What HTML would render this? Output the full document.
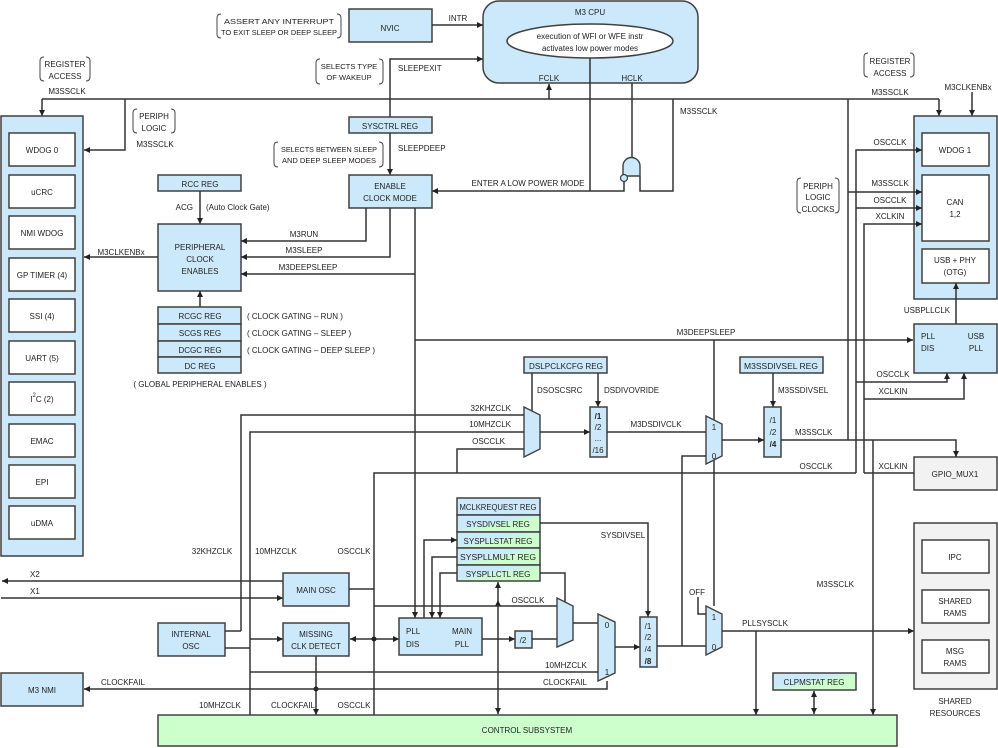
<!DOCTYPE html>
<html><head><meta charset="utf-8"><style>
html,body{margin:0;padding:0;background:#fff}
svg{display:block}
text{font-family:"Liberation Sans",sans-serif;font-size:8px;fill:#222}
.c{font-size:7.6px}
.b{fill:#cce9fb;stroke:#404040;stroke-width:1.5}
.w{fill:#fff;stroke:#404040;stroke-width:1.5}
.g{fill:#f2f2f2;stroke:#404040;stroke-width:1.5}
.gr{fill:#ccffcc;stroke:#404040;stroke-width:1.5}
.bg{fill:url(#bgr);stroke:#404040;stroke-width:1.5}
.l{fill:none;stroke:#333;stroke-width:1.5}
.br{fill:none;stroke:#444;stroke-width:1}
</style></head><body>
<svg width="998" height="748" viewBox="0 0 998 748" xmlns="http://www.w3.org/2000/svg">
<defs>
<marker id="a" markerWidth="7" markerHeight="7" refX="6" refY="3.5" orient="auto" markerUnits="userSpaceOnUse"><path d="M0,0.5 L6,3.5 L0,6.5z" fill="#222"/></marker>
<marker id="s" markerWidth="7" markerHeight="7" refX="1" refY="3.5" orient="auto" markerUnits="userSpaceOnUse"><path d="M7,0.5 L1,3.5 L7,6.5z" fill="#222"/></marker>
<linearGradient id="bgr" x1="0" y1="0" x2="1" y2="1"><stop offset="0.4" stop-color="#cce9fb"/><stop offset="0.6" stop-color="#ccffcc"/></linearGradient>
</defs>

<!-- M3 CPU -->
<rect x="483" y="1" width="215" height="82" rx="16" class="b"/>
<text x="590" y="15" text-anchor="middle">M3 CPU</text>
<ellipse cx="590" cy="41" rx="83" ry="17" class="w"/>
<text x="590" y="39" text-anchor="middle">execution of WFI or WFE instr</text>
<text x="590" y="51" text-anchor="middle">activates low power modes</text>
<text x="549" y="81" text-anchor="middle">FCLK</text>
<text x="632" y="81" text-anchor="middle">HCLK</text>

<!-- NVIC -->
<rect x="349" y="9" width="83" height="33" class="b"/>
<text x="390" y="31" text-anchor="middle">NVIC</text>
<path class="l" d="M432,25 H483" marker-end="url(#a)"/>
<text x="458" y="21" text-anchor="middle">INTR</text>
<path class="br" d="M221,14 q-4,0 -4,4 v16 q0,4 4,4 M337,14 q4,0 4,4 v16 q0,4 -4,4"/>
<text x="279" y="24" text-anchor="middle" class="c" textLength="110" lengthAdjust="spacingAndGlyphs">ASSERT ANY INTERRUPT</text>
<text x="279" y="35" text-anchor="middle" class="c" textLength="116" lengthAdjust="spacingAndGlyphs">TO EXIT SLEEP OR DEEP SLEEP</text>

<!-- SLEEPEXIT -->
<path class="l" d="M390,117 V59 H483" marker-end="url(#a)"/>
<text x="398" y="71">SLEEPEXIT</text>
<path class="br" d="M320,59 q-4,0 -4,4 v17 q0,4 4,4 M379,59 q4,0 4,4 v17 q0,4 -4,4"/>
<text x="349" y="69" text-anchor="middle" class="c">SELECTS TYPE</text>
<text x="349" y="80" text-anchor="middle" class="c">OF WAKEUP</text>

<!-- M3SSCLK top bus -->
<path class="l" d="M42,99 H939"/>
<path class="l" d="M42,99 V116" marker-end="url(#a)"/>
<path class="l" d="M939,99 V116" marker-end="url(#a)"/>
<path class="l" d="M972,92 V116" marker-end="url(#a)"/>
<path class="l" d="M125,99 V150 H84" marker-end="url(#a)"/>
<path class="l" d="M549,99 V84" marker-end="url(#a)"/>
<path class="br" d="M44,57 q-4,0 -4,4 v16 q0,4 4,4 M86,57 q4,0 4,4 v16 q0,4 -4,4"/>
<text x="65" y="67" text-anchor="middle">REGISTER</text>
<text x="65" y="79" text-anchor="middle">ACCESS</text>
<text x="67" y="94" text-anchor="middle">M3SSCLK</text>
<path class="br" d="M868,53 q-4,0 -4,4 v16 q0,4 4,4 M910,53 q4,0 4,4 v16 q0,4 -4,4"/>
<text x="890" y="64" text-anchor="middle">REGISTER</text>
<text x="890" y="76" text-anchor="middle">ACCESS</text>
<text x="890" y="95" text-anchor="middle">M3SSCLK</text>
<text x="968" y="90" text-anchor="middle">M3CLKENBx</text>
<path class="br" d="M137,109 q-4,0 -4,4 v16 q0,4 4,4 M171,109 q4,0 4,4 v16 q0,4 -4,4"/>
<text x="154" y="119" text-anchor="middle">PERIPH</text>
<text x="154" y="131" text-anchor="middle">LOGIC</text>
<text x="155" y="147" text-anchor="middle">M3SSCLK</text>

<!-- CPU internals / gate -->
<path class="l" d="M590,58 V191"/>
<path class="l" d="M632,83 V158"/>
<path class="l" d="M673,99 V191 H640 V176"/>
<path class="b" d="M623,176 V166 a8.5,8.5 0 0 1 17,0 V176 z" style="stroke:#404040;stroke-width:1.4"/>
<circle cx="624" cy="178" r="3.5" class="b" style="stroke-width:1.2"/>
<path class="l" d="M624,181.5 V191 H432" marker-end="url(#a)"/>
<text x="528" y="186" text-anchor="middle">ENTER A LOW POWER MODE</text>
<text x="680" y="114">M3SSCLK</text>

<!-- SYSCTRL / ENABLE -->
<rect x="349" y="117" width="83" height="16" class="b"/>
<text x="390" y="129" text-anchor="middle">SYSCTRL  REG</text>
<path class="l" d="M390,133 V175" marker-end="url(#a)"/>
<text x="398" y="151">SLEEPDEEP</text>
<path class="br" d="M278,142 q-4,0 -4,4 v17 q0,4 4,4 M379,142 q4,0 4,4 v17 q0,4 -4,4"/>
<text x="329" y="152" text-anchor="middle" class="c" textLength="96" lengthAdjust="spacingAndGlyphs">SELECTS BETWEEN SLEEP</text>
<text x="329" y="163" text-anchor="middle" class="c" textLength="94" lengthAdjust="spacingAndGlyphs">AND DEEP SLEEP MODES</text>
<rect x="349" y="175" width="83" height="33" class="b"/>
<text x="390" y="189" text-anchor="middle">ENABLE</text>
<text x="390" y="201" text-anchor="middle">CLOCK MODE</text>

<!-- RCC / PERIPH CLOCK ENABLES -->
<rect x="158" y="175" width="83" height="16" class="b"/>
<text x="200" y="187" text-anchor="middle">RCC  REG</text>
<path class="l" d="M200,191 V224" marker-end="url(#a)"/>
<text x="193" y="210" text-anchor="end">ACG</text>
<text x="206" y="210">(Auto Clock Gate)</text>
<rect x="158" y="224" width="83" height="67" class="b"/>
<text x="200" y="250" text-anchor="middle">PERIPHERAL</text>
<text x="200" y="262" text-anchor="middle">CLOCK</text>
<text x="200" y="274" text-anchor="middle">ENABLES</text>
<path class="l" d="M366,208 V241 H241" marker-end="url(#a)"/>
<text x="304" y="237" text-anchor="middle">M3RUN</text>
<path class="l" d="M390,208 V257 H241" marker-end="url(#a)"/>
<text x="304" y="253" text-anchor="middle">M3SLEEP</text>
<path class="l" d="M415,208 V618" marker-end="url(#a)"/>
<path class="l" d="M415,274 H241" marker-end="url(#a)"/>
<text x="308" y="270" text-anchor="middle">M3DEEPSLEEP</text>
<path class="l" d="M158,257 H84" marker-end="url(#a)"/>
<text x="121" y="255" text-anchor="middle">M3CLKENBx</text>
<path class="l" d="M200,307 V291" marker-end="url(#a)"/>
<rect x="158" y="307" width="83" height="17" class="b"/>
<rect x="158" y="324" width="83" height="17" class="b"/>
<rect x="158" y="341" width="83" height="16" class="b"/>
<rect x="158" y="357" width="83" height="16" class="b"/>
<text x="200" y="319" text-anchor="middle">RCGC  REG</text>
<text x="200" y="336" text-anchor="middle">SCGS  REG</text>
<text x="200" y="353" text-anchor="middle">DCGC  REG</text>
<text x="200" y="369" text-anchor="middle">DC  REG</text>
<text x="247" y="319">( CLOCK GATING – RUN )</text>
<text x="247" y="336">( CLOCK GATING – SLEEP )</text>
<text x="247" y="353">( CLOCK GATING – DEEP SLEEP )</text>
<text x="200" y="387" text-anchor="middle">( GLOBAL PERIPHERAL ENABLES )</text>

<!-- Left panel -->
<rect x="1" y="116" width="82" height="440" class="b"/>
<rect x="9" y="133" width="66" height="33" class="w"/><text x="42" y="153" text-anchor="middle">WDOG 0</text>
<rect x="9" y="175" width="66" height="33" class="w"/><text x="42" y="195" text-anchor="middle">uCRC</text>
<rect x="9" y="216" width="66" height="33" class="w"/><text x="42" y="236" text-anchor="middle">NMI WDOG</text>
<rect x="9" y="258" width="66" height="33" class="w"/><text x="42" y="278" text-anchor="middle">GP TIMER  (4)</text>
<rect x="9" y="299" width="66" height="33" class="w"/><text x="42" y="319" text-anchor="middle">SSI  (4)</text>
<rect x="9" y="341" width="66" height="33" class="w"/><text x="42" y="361" text-anchor="middle">UART  (5)</text>
<rect x="9" y="382" width="66" height="33" class="w"/><text x="42" y="402" text-anchor="middle">I<tspan dy="-5" font-size="6">2</tspan><tspan dy="5">C  (2)</tspan></text>
<rect x="9" y="424" width="66" height="33" class="w"/><text x="42" y="444" text-anchor="middle">EMAC</text>
<rect x="9" y="465" width="66" height="33" class="w"/><text x="42" y="485" text-anchor="middle">EPI</text>
<rect x="9" y="506" width="66" height="33" class="w"/><text x="42" y="526" text-anchor="middle">uDMA</text>

<!-- Right panel -->
<rect x="914" y="116" width="83" height="183" class="b"/>
<rect x="922" y="133" width="67" height="33" class="w"/><text x="955" y="153" text-anchor="middle">WDOG 1</text>
<rect x="922" y="175" width="67" height="66" class="w"/><text x="955" y="205" text-anchor="middle">CAN</text><text x="955" y="217" text-anchor="middle">1,2</text>
<rect x="922" y="249" width="67" height="34" class="w"/><text x="955" y="263" text-anchor="middle">USB + PHY</text><text x="955" y="275" text-anchor="middle">(OTG)</text>
<path class="l" d="M856,473 V150 H922" marker-end="url(#a)"/>
<text x="890" y="145" text-anchor="middle">OSCCLK</text>
<path class="l" d="M848,99 V440"/>
<path class="l" d="M848,192 H922" marker-end="url(#a)"/>
<text x="890" y="186" text-anchor="middle">M3SSCLK</text>
<path class="l" d="M856,208 H922" marker-end="url(#a)"/>
<text x="890" y="203" text-anchor="middle">OSCCLK</text>
<path class="l" d="M864,473 V224 H922" marker-end="url(#a)"/>
<text x="890" y="219" text-anchor="middle">XCLKIN</text>
<path class="br" d="M801,178 q-4,0 -4,4 v27 q0,4 4,4 M835,178 q4,0 4,4 v27 q0,4 -4,4"/>
<text x="818" y="189" text-anchor="middle">PERIPH</text>
<text x="818" y="200" text-anchor="middle">LOGIC</text>
<text x="818" y="212" text-anchor="middle">CLOCKS</text>

<!-- USB PLL -->
<rect x="914" y="324" width="83" height="49" class="b"/>
<text x="921" y="339">PLL</text><text x="921" y="351">DIS</text>
<text x="976" y="339" text-anchor="middle">USB</text><text x="976" y="351" text-anchor="middle">PLL</text>
<path class="l" d="M956,324 V283" marker-end="url(#a)"/>
<text x="927" y="313" text-anchor="middle">USBPLLCLK</text>
<path class="l" d="M415,340 H913" marker-end="url(#a)"/>
<text x="706" y="335" text-anchor="middle">M3DEEPSLEEP</text>
<path class="l" d="M856,382 H947 V373" marker-end="url(#a)"/>
<text x="893" y="377" text-anchor="middle">OSCCLK</text>
<path class="l" d="M864,399 H964 V373" marker-end="url(#a)"/>
<text x="893" y="394" text-anchor="middle">XCLKIN</text>

<!-- GPIO_MUX1 -->
<rect x="914" y="457" width="83" height="33" class="g"/>
<text x="955" y="477" text-anchor="middle">GPIO_MUX1</text>
<path class="l" d="M864,473 H914"/>
<text x="893" y="469" text-anchor="middle">XCLKIN</text>

<!-- DSLPCLKCFG -->
<rect x="524" y="357" width="83" height="16" class="b"/>
<text x="566" y="369" text-anchor="middle" textLength="74" lengthAdjust="spacingAndGlyphs">DSLPCLKCFG  REG</text>
<path class="l" d="M532,373 V412"/>
<path class="l" d="M598,373 V407" marker-end="url(#a)"/>
<text x="537" y="393">DSOSCSRC</text>
<text x="604" y="393">DSDIVOVRIDE</text>
<!-- mux0 -->
<path class="b" d="M524,407 L540,415 V449 L524,457 z" style="stroke-width:1.4"/>
<path class="l" d="M241,631 V415 H524"/>
<path class="l" d="M250,715 V432 H524"/>
<path class="l" d="M457,473 V449 H524"/>
<text x="511" y="411" text-anchor="end">32KHZCLK</text>
<text x="511" y="427" text-anchor="end">10MHZCLK</text>
<text x="505" y="444" text-anchor="end">OSCCLK</text>
<path class="l" d="M540,432 H590" marker-end="url(#a)"/>
<rect x="590" y="407" width="17" height="50" class="b"/>
<text x="598" y="419" text-anchor="middle" font-weight="bold">/1</text>
<text x="598" y="430" text-anchor="middle">/2</text>
<text x="598" y="441" text-anchor="middle">...</text>
<text x="598" y="453" text-anchor="middle">/16</text>
<path class="l" d="M607,432 H706"/>
<text x="656" y="427" text-anchor="middle">M3DSDIVCLK</text>
<!-- mux1 -->
<path class="l" d="M714,340 V606"/>
<path class="b" d="M706,416 L722,424 V456 L706,464 z" style="stroke-width:1.4"/>
<text x="714" y="430" text-anchor="middle">1</text>
<text x="714" y="459" text-anchor="middle">0</text>
<path class="l" d="M682,646 V456 H706"/>
<path class="l" d="M722,440 H764" marker-end="url(#a)"/>
<rect x="740" y="357" width="83" height="16" class="b"/>
<text x="781" y="369" text-anchor="middle" textLength="74" lengthAdjust="spacingAndGlyphs">M3SSDIVSEL  REG</text>
<path class="l" d="M773,373 V407" marker-end="url(#a)"/>
<text x="778" y="393">M3SSDIVSEL</text>
<rect x="764" y="407" width="17" height="50" class="b"/>
<text x="773" y="423" text-anchor="middle">/1</text>
<text x="773" y="435" text-anchor="middle">/2</text>
<text x="773" y="447" text-anchor="middle" font-weight="bold">/4</text>
<path class="l" d="M781,440 H956 V457" marker-end="url(#a)"/>
<text x="795" y="435">M3SSCLK</text>
<path class="l" d="M873,440 V715" marker-end="url(#a)"/>
<text x="854" y="587" text-anchor="end">M3SSCLK</text>
<path class="l" d="M374,715 V473 H856"/>
<text x="816" y="469" text-anchor="middle">OSCCLK</text>

<!-- bottom labels -->
<text x="212" y="554" text-anchor="middle">32KHZCLK</text>
<text x="276" y="554" text-anchor="middle">10MHZCLK</text>
<text x="354" y="554" text-anchor="middle">OSCCLK</text>

<!-- X1 X2 -->
<path class="l" d="M283,581 H2" marker-end="url(#a)"/>
<text x="30" y="577">X2</text>
<path class="l" d="M1,598 H283" marker-end="url(#a)"/>
<text x="30" y="594">X1</text>
<rect x="283" y="573" width="66" height="33" class="b"/>
<text x="316" y="593" text-anchor="middle">MAIN OSC</text>
<path class="l" d="M349,589 H374"/>

<!-- Internal osc -->
<rect x="158" y="623" width="67" height="33" class="b"/>
<text x="191" y="637" text-anchor="middle">INTERNAL</text>
<text x="191" y="649" text-anchor="middle">OSC</text>
<path class="l" d="M225,631 H241"/>
<path class="l" d="M225,648 H250"/>
<path class="l" d="M250,639 H283" marker-end="url(#a)"/>
<rect x="283" y="623" width="66" height="33" class="b"/>
<text x="316" y="637" text-anchor="middle">MISSING</text>
<text x="316" y="649" text-anchor="middle">CLK DETECT</text>
<path class="l" d="M374,639 H350" marker-end="url(#a)"/>
<path class="l" d="M374,639 H399" marker-end="url(#a)"/>
<circle cx="374" cy="639" r="2.5" fill="#222"/>
<path class="l" d="M316,656 V715" marker-end="url(#a)"/>
<circle cx="316" cy="689" r="2.5" fill="#222"/>

<!-- Main PLL -->
<rect x="399" y="618" width="83" height="37" class="b"/>
<text x="406" y="634">PLL</text><text x="406" y="647">DIS</text>
<text x="462" y="634" text-anchor="middle">MAIN</text><text x="462" y="647" text-anchor="middle">PLL</text>
<path class="l" d="M424,618 V540 H457" marker-end="url(#a)"/>
<path class="l" d="M457,557 H432 V618" marker-end="url(#a)"/>
<path class="l" d="M457,573 H440 V618" marker-end="url(#a)"/>
<path class="l" d="M482,639 H515" marker-end="url(#a)"/>
<rect x="515" y="631" width="17" height="17" class="b"/>
<text x="523" y="643" text-anchor="middle">/2</text>

<!-- registers -->
<rect x="457" y="498" width="83" height="17" class="b"/>
<rect x="457" y="515" width="83" height="17" class="bg"/>
<rect x="457" y="532" width="83" height="16" class="bg"/>
<rect x="457" y="548" width="83" height="17" class="bg"/>
<rect x="457" y="565" width="83" height="16" class="bg"/>
<text x="498" y="510" text-anchor="middle" textLength="77" lengthAdjust="spacingAndGlyphs">MCLKREQUEST REG</text>
<text x="498" y="527" text-anchor="middle">SYSDIVSEL  REG</text>
<text x="498" y="544" text-anchor="middle">SYSPLLSTAT  REG</text>
<text x="498" y="560" text-anchor="middle" textLength="76" lengthAdjust="spacingAndGlyphs">SYSPLLMULT  REG</text>
<text x="498" y="577" text-anchor="middle">SYSPLLCTL  REG</text>
<path class="l" d="M498,600 V714" marker-start="url(#s)" marker-end="url(#a)"/>
<path class="l" d="M498,582 V600" marker-start="url(#s)"/>
<path class="l" d="M540,523 H648 V617" marker-end="url(#a)"/>
<text x="623" y="538" text-anchor="middle">SYSDIVSEL</text>
<path class="l" d="M540,573 H565 V603"/>

<!-- mux4 -->
<path class="l" d="M374,606 H557"/>
<text x="528" y="603" text-anchor="middle">OSCCLK</text>
<path class="l" d="M532,639 H557"/>
<path class="b" d="M557,598 L573,606 V640 L557,647 z" style="stroke-width:1.4"/>
<path class="l" d="M573,623 H598"/>
<!-- mux3 -->
<path class="b" d="M598,614 L615,622 V673 L598,681 z" style="stroke-width:1.4"/>
<text x="607" y="628" text-anchor="middle">0</text>
<text x="607" y="675" text-anchor="middle">1</text>
<path class="l" d="M250,672 H598"/>
<text x="566" y="668" text-anchor="middle">10MHZCLK</text>
<path class="l" d="M607,681 V689 H84" marker-end="url(#a)"/>
<text x="565" y="685" text-anchor="middle">CLOCKFAIL</text>
<text x="123" y="685" text-anchor="middle">CLOCKFAIL</text>
<path class="l" d="M615,647 H640" marker-end="url(#a)"/>
<rect x="640" y="617" width="17" height="50" class="b"/>
<text x="648" y="629" text-anchor="middle">/1</text>
<text x="648" y="640" text-anchor="middle">/2</text>
<text x="648" y="652" text-anchor="middle">/4</text>
<text x="648" y="664" text-anchor="middle" font-weight="bold">/8</text>
<path class="l" d="M657,646 H706"/>
<!-- mux2 -->
<path class="l" d="M698,597 V614 H706"/>
<text x="697" y="595" text-anchor="middle">OFF</text>
<path class="b" d="M706,606 L722,614 V647 L706,655 z" style="stroke-width:1.4"/>
<text x="714" y="620" text-anchor="middle">1</text>
<text x="714" y="650" text-anchor="middle">0</text>
<path class="l" d="M722,631 H914" marker-end="url(#a)"/>
<text x="765" y="626" text-anchor="middle">PLLSYSCLK</text>
<path class="l" d="M756,631 V715" marker-end="url(#a)"/>

<!-- M3 NMI -->
<rect x="1" y="673" width="82" height="33" class="b"/>
<text x="42" y="693" text-anchor="middle">M3 NMI</text>

<!-- CLPMSTAT -->
<rect x="773" y="673" width="83" height="17" class="bg"/>
<text x="814" y="685" text-anchor="middle">CLPMSTAT  REG</text>
<path class="l" d="M814,691 V714" marker-start="url(#s)" marker-end="url(#a)"/>

<!-- control subsystem -->
<text x="220" y="708" text-anchor="middle">10MHZCLK</text>
<text x="293" y="708" text-anchor="middle">CLOCKFAIL</text>
<text x="354" y="708" text-anchor="middle">OSCCLK</text>
<rect x="158" y="715" width="739" height="31" class="gr"/>
<text x="527" y="733" text-anchor="middle">CONTROL SUBSYSTEM</text>

<!-- shared resources -->
<rect x="914" y="523" width="83" height="166" class="g"/>
<rect x="922" y="540" width="67" height="33" class="w"/><text x="955" y="560" text-anchor="middle">IPC</text>
<rect x="922" y="590" width="67" height="33" class="w"/><text x="955" y="604" text-anchor="middle">SHARED</text><text x="955" y="616" text-anchor="middle">RAMS</text>
<rect x="922" y="640" width="67" height="33" class="w"/><text x="955" y="654" text-anchor="middle">MSG</text><text x="955" y="666" text-anchor="middle">RAMS</text>
<text x="955" y="704" text-anchor="middle">SHARED</text>
<text x="955" y="716" text-anchor="middle">RESOURCES</text>
</svg>
</body></html>
